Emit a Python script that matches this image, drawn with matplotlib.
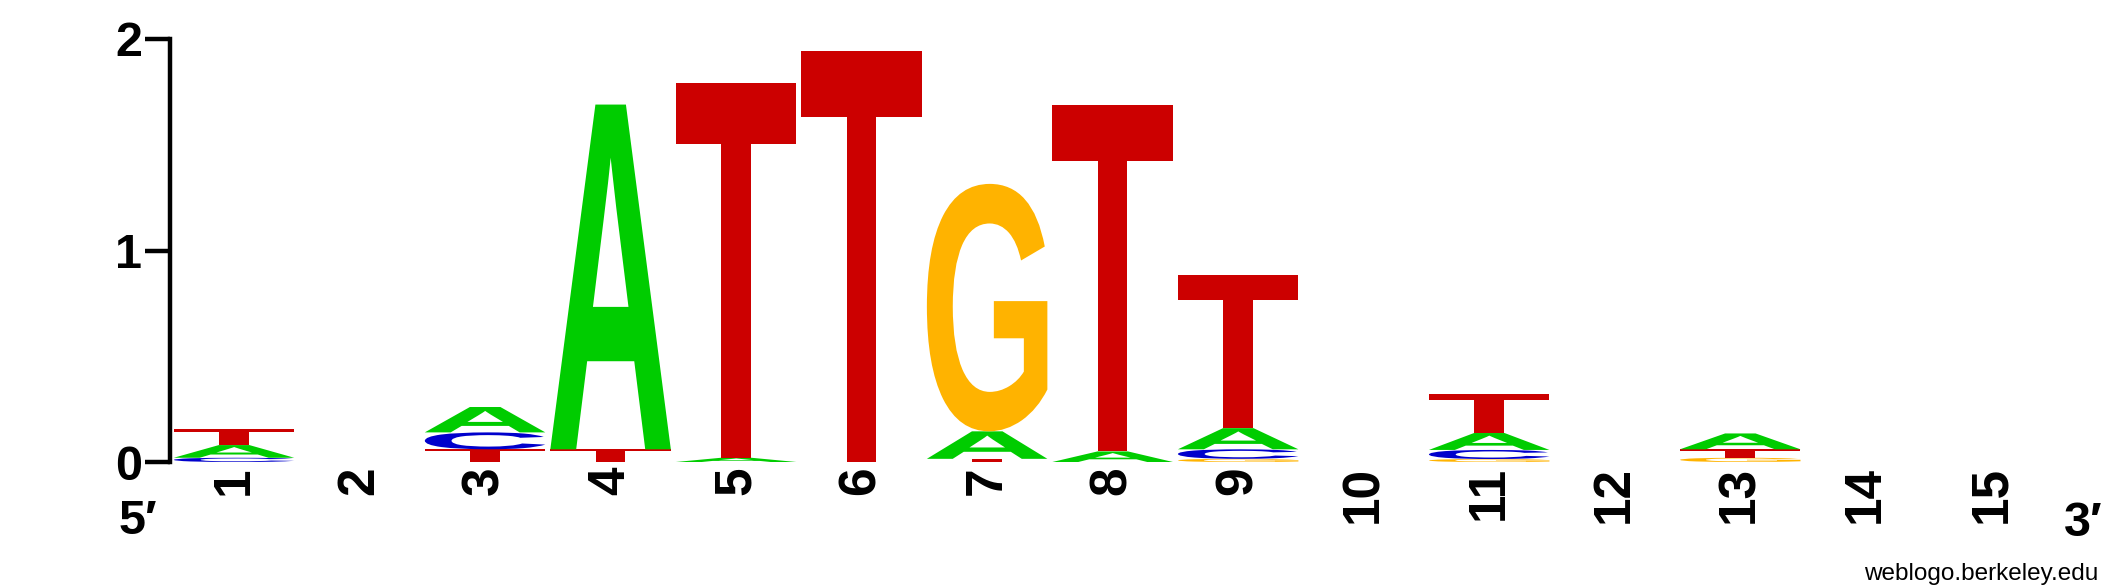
import matplotlib
matplotlib.use('Agg')
import matplotlib.pyplot as plt
from matplotlib.textpath import TextPath
from matplotlib.patches import PathPatch
from matplotlib.font_manager import FontProperties
from matplotlib.transforms import Affine2D

# Letter heights (bits) at each position
positions = list(range(1, 16))
heights_A = [0.06, 0, 0.12, 1.63, 0.02, 0, 0.13, 0.05, 0.10, 0, 0.08, 0, 0.075, 0, 0]
heights_C = [0.02, 0, 0.08, 0, 0, 0, 0, 0, 0.045, 0, 0.043, 0, 0, 0, 0]
heights_G = [0, 0, 0, 0, 0, 0, 1.17, 0, 0.015, 0, 0.014, 0, 0.02, 0, 0]
heights_T = [0.075, 0, 0.06, 0.06, 1.77, 1.945, 0.015, 1.64, 0.725, 0, 0.185, 0, 0.04, 0, 0]
y_ticks = [0, 1, 2]

colors = {'A': '#00cc00', 'C': '#0000cc', 'G': '#ffb300', 'T': '#cc0000'}
letter_font = FontProperties(family='Liberation Sans', weight='bold')


def draw_letter(ax, letter, x_center, y0, width, height):
    # Stretch the glyph outline so its ink fills the box exactly
    path = TextPath((0, 0), letter, size=1, prop=letter_font)
    ext = path.get_extents()
    trans = (Affine2D()
             .translate(-ext.x0, -ext.y0)
             .scale(width / ext.width, height / ext.height)
             .translate(x_center - width / 2, y0))
    patch = PathPatch(trans.transform_path(path), facecolor=colors[letter],
                      edgecolor='none', clip_on=False)
    ax.add_patch(patch)


fig = plt.figure(figsize=(21.25, 5.88), dpi=100)
ax = fig.add_axes([170 / 2125, 1 - 462 / 588, 0.8866, (462 - 39) / 588])

col_width = 0.96
for i, pos in enumerate(positions):
    stack = [('A', heights_A[i]), ('C', heights_C[i]),
             ('G', heights_G[i]), ('T', heights_T[i])]
    # weblogo puts the smallest letter at the bottom
    stack.sort(key=lambda s: s[1])
    y = 0
    for letter, h in stack:
        if h <= 0:
            continue
        draw_letter(ax, letter, pos, y, col_width, h)
        y += h

ax.set_xlim(0.49, 15.5)
ax.set_ylim(0, 2)

for side in ['top', 'right', 'bottom']:
    ax.spines[side].set_visible(False)
ax.spines['left'].set_linewidth(3.2)

ax.set_yticks(y_ticks)
ax.set_yticklabels([str(t) for t in y_ticks], fontsize=35, fontweight='bold',
                   family='Liberation Sans')
ax.tick_params(axis='y', direction='out', length=18, width=3.2, pad=2)

ax.set_xticks(positions)
ax.set_xticklabels([str(p) for p in positions], rotation=90, fontsize=37,
                   fontweight='bold', family='Liberation Sans', va='top', ha='center')
ax.tick_params(axis='x', length=0, pad=3)

fig.text(138 / 2125, 1 - 522 / 588, '5\u2032', fontsize=35, fontweight='bold',
         family=['Liberation Sans', 'DejaVu Sans'], ha='center', va='center')
fig.text(2083 / 2125, 1 - 524 / 588, '3\u2032', fontsize=35, fontweight='bold',
         family=['Liberation Sans', 'DejaVu Sans'], ha='center', va='center')
fig.text(2098 / 2125, 1 - 574 / 588, 'weblogo.berkeley.edu', fontsize=17.5,
         family='Liberation Sans', ha='right', va='center')

fig.savefig('out.png', dpi=100)
